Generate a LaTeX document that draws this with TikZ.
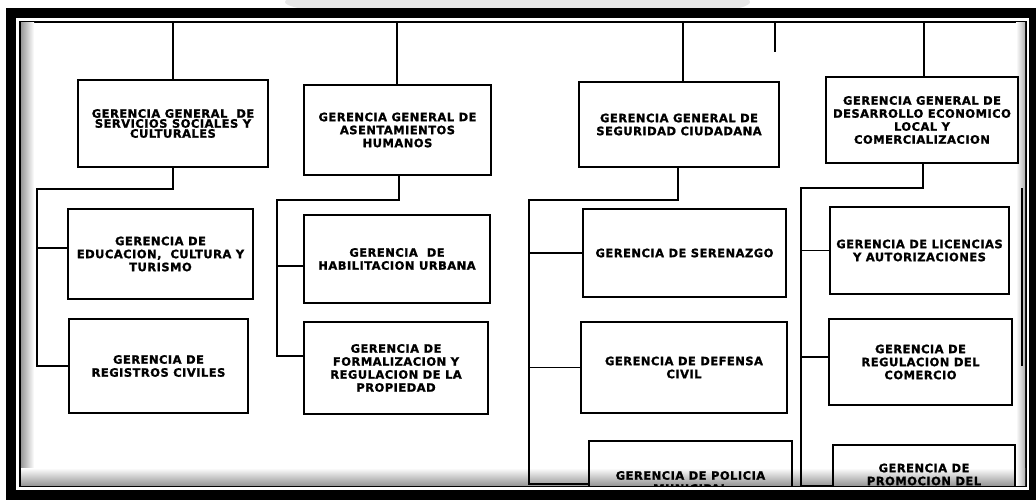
\documentclass[tikz,border=0pt]{standalone}
\usepackage{fontspec}
\newfontfamily\orgfont[LetterSpace=4, BoldFeatures={FakeBold=1.2}]{DejaVu Sans}
\usetikzlibrary{calc}
\definecolor{markgray}{HTML}{E8E8E8}

\tikzset{
  gerbox/.style={draw, line width=1.4pt, align=center, inner sep=0pt,
    font=\orgfont\bfseries\fontsize{11.5}{13}\selectfont},
  conn/.style={line width=1.3pt}
}

\begin{document}
\begin{tikzpicture}[x=1pt,y=-1pt]
  \useasboundingbox (0,0) rectangle (1036,503);
  % faint mark behind the frame
  \fill[markgray] (420,2) ellipse (135 and 14);
  \fill[markgray] (640,2) ellipse (110 and 14);
  % frame
  \fill[black] (6,8) rectangle (1036,500);
  \fill[white] (16,18) rectangle (1029,490);
  \draw[line width=1.5pt] (20,22) rectangle (1026,486);
  \shade[left color=black!40, right color=white] (21,23) rectangle (34,485);
  \shade[top color=white, bottom color=black!40] (21,468) rectangle (1025,485);
  \shade[left color=white, right color=black!30] (1016,23) rectangle (1025,485);

  \begin{scope}
    \clip (21,23) rectangle (1025,485);
    % gerencias generales
    \node[gerbox, minimum width=190pt, minimum height=87pt,
      font=\orgfont\bfseries\fontsize{11.5}{10}\selectfont] (ggSoc) at (173,123.5)
      {GERENCIA GENERAL\ \ DE\\SERVICIOS SOCIALES Y\\CULTURALES};
    \node[gerbox, minimum width=187pt, minimum height=90pt] (ggAse) at (397.5,130)
      {GERENCIA GENERAL DE\\ASENTAMIENTOS\\HUMANOS};
    \node[gerbox, minimum width=200pt, minimum height=85pt] (ggSeg) at (679,124.5)
      {GERENCIA GENERAL DE\\SEGURIDAD CIUDADANA};
    \node[gerbox, minimum width=192pt, minimum height=86pt] (ggDes) at (922,120)
      {GERENCIA GENERAL DE\\DESARROLLO ECONOMICO\\LOCAL Y\\COMERCIALIZACION};

    % gerencias
    \node[gerbox, minimum width=185pt, minimum height=90pt] (gEdu) at (160.5,254)
      {GERENCIA DE\\EDUCACION,\ \ CULTURA Y\\TURISMO};
    \node[gerbox, minimum width=179pt, minimum height=94pt] (gReg) at (158.5,366)
      {GERENCIA DE\\REGISTROS CIVILES};
    \node[gerbox, minimum width=186pt, minimum height=88pt] (gHab) at (397,259)
      {GERENCIA\ \ DE\\HABILITACION URBANA};
    \node[gerbox, minimum width=184pt, minimum height=92pt] (gFor) at (396,368)
      {GERENCIA DE\\FORMALIZACION Y\\REGULACION DE LA\\PROPIEDAD};
    \node[gerbox, minimum width=203pt, minimum height=88pt] (gSer) at (684.5,253)
      {GERENCIA DE SERENAZGO};
    \node[gerbox, minimum width=206pt, minimum height=91pt] (gDef) at (684,367.5)
      {GERENCIA DE DEFENSA\\CIVIL};
    \node[gerbox, minimum width=203pt, minimum height=82pt] (gPol) at (690.5,482)
      {GERENCIA DE POLICIA\\MUNICIPAL};
    \node[gerbox, minimum width=179pt, minimum height=87pt] (gLic) at (919.5,250.5)
      {GERENCIA DE LICENCIAS\\Y AUTORIZACIONES};
    \node[gerbox, minimum width=183pt, minimum height=86pt] (gCom) at (920.5,362)
      {GERENCIA DE\\REGULACION DEL\\COMERCIO};
    \node[gerbox, minimum width=182pt, minimum height=72pt] (gPro) at (924,481)
      {GERENCIA DE\\PROMOCION DEL\\DESARROLLO};

    % lines from above
    \coordinate (topSoc) at (173,22);
    \coordinate (topAse) at (397,22);
    \coordinate (topSeg) at (683,22);
    \coordinate (topDes) at (924,22);
    \draw[conn] (topSoc) -- (ggSoc.north);
    \draw[conn] (topAse) -- (topAse |- ggAse.north);
    \draw[conn] (topSeg) -- (topSeg |- ggSeg.north);
    \draw[conn] (topDes) -- (topDes |- ggDes.north);
    \draw[conn] (775,22) -- (775,52);

    % branch points
    \coordinate (busSoc) at (37,189);
    \coordinate (busAse) at (277,200);
    \coordinate (busSeg) at (529,200);
    \coordinate (busDes) at (801,188);
    \coordinate (eduIn) at ([yshift=6pt]gEdu.west);
    \coordinate (habIn) at ([yshift=-7pt]gHab.west);
    \coordinate (forIn) at ([yshift=12pt]gFor.west);
    \coordinate (polIn) at ([yshift=-2pt]gPol.west);
    \coordinate (comIn) at ([yshift=5pt]gCom.west);
    \coordinate (proIn) at ([yshift=-5pt]gPro.west);

    % column 1
    \draw[conn] (ggSoc.south) |- (busSoc) |- (gReg.west);
    \draw[conn] (busSoc |- eduIn) -- (eduIn);
    % column 2
    \draw[conn] ([xshift=1.5pt]ggAse.south) |- (busAse) |- (forIn);
    \draw[conn] (busAse |- habIn) -- (habIn);
    % column 3
    \draw[conn] ([xshift=-1pt]ggSeg.south) |- (busSeg) |- (polIn);
    \draw[conn] (busSeg |- gSer.west) -- (gSer.west);
    \draw[conn] (busSeg |- gDef.west) -- (gDef.west);
    % column 4
    \draw[conn] ([xshift=1pt]ggDes.south) |- (busDes) |- (proIn);
    \draw[conn] (busDes |- gLic.west) -- (gLic.west);
    \draw[conn] (busDes |- comIn) -- (comIn);

    % cut edge on the right
    \draw[conn] (1022,188) -- (1022,366);
  \end{scope}
\end{tikzpicture}
\end{document}
